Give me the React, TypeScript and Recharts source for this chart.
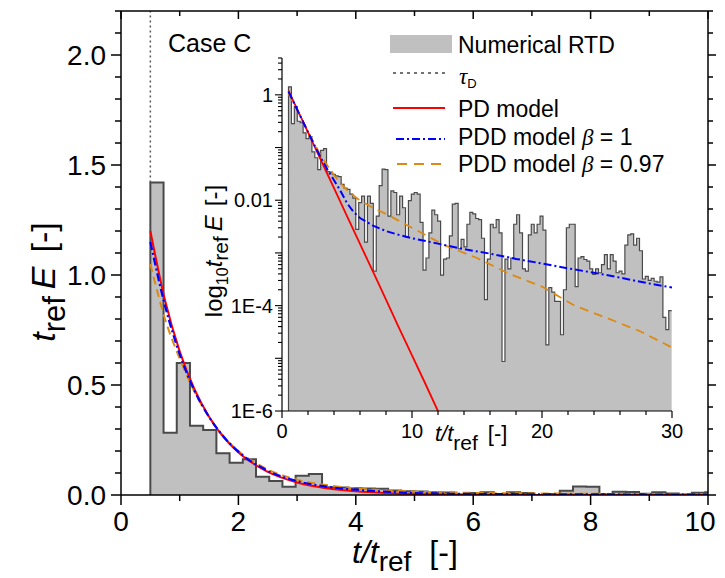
import React from 'react';
import { ComposedChart, Area, Line, XAxis, YAxis, ReferenceLine } from 'recharts';

const FONT = '"Liberation Sans", Arial, Helvetica, sans-serif';
const GREEK = '"Liberation Serif", "DejaVu Serif", serif';

// Numerical RTD histogram: bins start at t/tref = 0.5, width 0.225
const BIN_START = 0.5;
const BIN_WIDTH = 0.225;
const rtdValues = [
  1.42, 0.283, 0.6, 0.315, 0.295, 0.19, 0.147, 0.162, 0.083, 0.064,
  0.038, 0.088, 0.095, 0.035, 0.034, 0.031, 0.029, 0.028, 0.02, 0.017,
  0.016, 0.013, 0.011, 0.0028, 0.009, 0.012, 0.0016, 0.012, 0.0087, 0.00045,
  0.005, 0.019, 0.039, 0.038, 0.005, 0.015, 0.014, 0.0053, 0.012, 0.0072,
  0.002, 0.0098, 0.013, 0.014, 0.013, 0.0038, 0.00047, 0.0008, 0.0024, 0.0065,
  0.0053, 0.004, 0.00038, 0.00076, 0.0008, 0.0021, 0.0084, 0.0087, 0.0012, 0.0018,
  0.0013, 0.0035, 0.0059, 0.0055, 0.0045, 0.0043, 0.0019, 0.00013, 0.00076, 0.0035,
  0.003, 0.0043, 0.0024, 0.0000087, 0.00076, 0.0005, 0.0008, 0.0035, 0.0053, 0.0024,
  0.0005, 0.00045, 0.0022, 0.0035, 0.0024, 0.0035, 0.005, 0.0027, 0.000018, 0.00022,
  0.00018, 0.00012, 0.00012, 0.000028, 0.0002, 0.003, 0.0035, 0.0035, 0.00023, 0.0008,
  0.00085, 0.00075, 0.0007, 0.0005, 0.00039, 0.0005, 0.00042, 0.0006, 0.00093, 0.0005,
  0.00093, 0.0007, 0.00042, 0.00045, 0.0004, 0.0014, 0.0022, 0.0023, 0.0014, 0.0019,
  0.0011, 0.00032, 0.00036, 0.0003, 0.00033, 0.00029, 0.00028, 0.00035, 0.00006, 0.000035,
  0.00008,
];

const TAU_D = 0.5;

// PD model
const pdT = [0.5, 0.75, 1, 1.25, 1.5, 1.75, 2, 2.5, 3, 3.5, 4, 4.5, 5, 6, 7, 8, 9, 10, 11, 12, 12.5];
const pdE = [1.2, 0.885, 0.653, 0.482, 0.356, 0.262, 0.193, 0.105, 0.0572, 0.0311, 0.0169, 0.0092, 0.005, 0.00148, 0.00044, 0.00013, 3.8e-5, 1.14e-5, 3.4e-6, 9.9e-7, 5.4e-7];

// PDD model beta = 1
const pdd1T = [0.5, 0.75, 1, 1.25, 1.5, 1.75, 2, 2.5, 3, 3.5, 4, 4.5, 5, 5.5, 6, 7, 8, 9, 10, 12, 14, 16, 18, 20, 22, 24, 26, 28, 30];
const pdd1E = [1.15, 0.86, 0.64, 0.475, 0.355, 0.265, 0.197, 0.11, 0.063, 0.038, 0.024, 0.015, 0.0088, 0.006, 0.0046, 0.0033, 0.0026, 0.0022, 0.0019, 0.0015, 0.00118, 0.00097, 0.00077, 0.00063, 0.00051, 0.00042, 0.00034, 0.00027, 0.00022];

// PDD model beta = 0.97
const pdd097T = [0.5, 0.75, 1, 1.25, 1.5, 1.75, 2, 2.5, 3, 3.5, 4, 4.5, 5, 6, 7, 8, 10, 12.5, 15, 17.5, 20, 22.5, 25, 27.5, 30];
const pdd097E = [1.05, 0.8, 0.62, 0.47, 0.355, 0.265, 0.2, 0.116, 0.07, 0.045, 0.03, 0.021, 0.0155, 0.0098, 0.0072, 0.0055, 0.003, 0.0014, 0.0008, 0.0004, 0.00023, 0.0001, 5.8e-5, 3.3e-5, 1.6e-5];

// Axis ticks
const mainXTicks = [0, 1, 2, 3, 4, 5, 6, 7, 8, 9, 10];
const mainXLabels = [0, 2, 4, 6, 8, 10];
const mainYTicks = [0, 0.1, 0.2, 0.3, 0.4, 0.5, 0.6, 0.7, 0.8, 0.9, 1, 1.1, 1.2, 1.3, 1.4, 1.5, 1.6, 1.7, 1.8, 1.9, 2, 2.1, 2.2];
const mainYLabelValues = [0, 0.5, 1, 1.5, 2];
const mainYLabelTexts = ['0.0', '0.5', '1.0', '1.5', '2.0'];
const insetXTicks = [0, 2, 4, 6, 8, 10, 12, 14, 16, 18, 20, 22, 24, 26, 28, 30];
const insetXLabels = [0, 10, 20, 30];
const insetDecades = [-6, -5, -4, -3, -2, -1, 0];
const insetYLabelValues = [1, 0.01, 1e-4, 1e-6];
const insetYLabelTexts = ['1', '0.01', '1E-4', '1E-6'];

const Y_MAX = 2.2;
const INSET_Y_MIN = 1e-6;
const INSET_Y_MAX = 5;

const CHART_W = 709;
const CHART_H = 570;

const insetYTicks: number[] = [];
insetDecades.forEach((d) => {
  for (let m = 1; m <= 9; m++) {
    const v = m * Math.pow(10, d);
    if (v <= INSET_Y_MAX * 1.0001) insetYTicks.push(v);
  }
});

const binEdges = rtdValues.map((_, i) => BIN_START + i * BIN_WIDTH);
const histEnd = BIN_START + rtdValues.length * BIN_WIDTH;
const lastVal = rtdValues[rtdValues.length - 1];
const mainHist = [
  { t: BIN_START, v: 0 },
  ...rtdValues.map((v, i) => ({ t: binEdges[i], v })),
  { t: histEnd, v: lastVal },
];
const insetHist = [
  { t: BIN_START, v: INSET_Y_MIN },
  ...rtdValues.map((v, i) => ({ t: binEdges[i], v })),
  { t: histEnd, v: lastVal },
];
const pdData = pdT.map((t, i) => ({ t, v: pdE[i] }));
const pdd1Data = pdd1T.map((t, i) => ({ t, v: pdd1E[i] }));
const pdd097Data = pdd097T.map((t, i) => ({ t, v: pdd097E[i] }));

const RED = '#ff0000';
const BLUE = '#0000ff';
const ORANGE = '#dc8a12';
const HIST_FILL = '#c0c0c0';
const HIST_STROKE = '#4a4a4a';

const near = (a: number, b: number) => Math.abs(a - b) < 1e-9;
const isMainYMajor = (v: number) => mainYLabelValues.some((m) => near(m, v));

const MainBottomTick = (p: any) => {
  const v = p.payload.value;
  const major = mainXLabels.some((m) => near(m, v));
  const label = String(v);
  // keep the last label inside the drawing area
  const halfW = label.length * 8;
  const lx = Math.min(p.x, CHART_W - 1 - halfW);
  return (
    <g>
      <line x1={p.x} x2={p.x} y1={p.y} y2={p.y + (major ? 10 : 6)} stroke="#000" strokeWidth={1.5} />
      {major && (
        <text x={lx} y={p.y + 36} textAnchor="middle" fontFamily={FONT} fontSize={28} fill="#000">
          {label}
        </text>
      )}
    </g>
  );
};

const MainTopTick = (p: any) => {
  const v = p.payload.value;
  const major = mainXLabels.some((m) => near(m, v));
  return <line x1={p.x} x2={p.x} y1={p.y} y2={p.y + (major ? 8 : 5)} stroke="#000" strokeWidth={1.5} />;
};

const MainLeftTick = (p: any) => {
  const v = p.payload.value;
  const idx = mainYLabelValues.findIndex((m) => near(m, v));
  const major = idx >= 0;
  return (
    <g>
      <line x1={p.x} x2={p.x - (major ? 10 : 6)} y1={p.y} y2={p.y} stroke="#000" strokeWidth={1.5} />
      {major && (
        <text x={p.x - 15} y={p.y + 10} textAnchor="end" fontFamily={FONT} fontSize={28} fill="#000">
          {mainYLabelTexts[idx]}
        </text>
      )}
    </g>
  );
};

const MainRightTick = (p: any) => {
  const v = p.payload.value;
  const major = isMainYMajor(v);
  return <line x1={p.x} x2={p.x + (major ? 8 : 5)} y1={p.y} y2={p.y} stroke="#000" strokeWidth={1.5} />;
};

const InsetBottomTick = (p: any) => {
  const v = p.payload.value;
  const major = insetXLabels.some((m) => near(m, v));
  return (
    <g>
      <line x1={p.x} x2={p.x} y1={p.y} y2={p.y + (major ? 7 : 4)} stroke="#000" strokeWidth={1.2} />
      {major && (
        <text x={p.x} y={p.y + 27} textAnchor="middle" fontFamily={FONT} fontSize={20} fill="#000">
          {v}
        </text>
      )}
    </g>
  );
};

const InsetLeftTick = (p: any) => {
  const v = p.payload.value;
  const lg = Math.log10(v);
  const isDecade = Math.abs(lg - Math.round(lg)) < 1e-6;
  const idx = insetYLabelValues.findIndex((m) => Math.abs(Math.log10(m) - lg) < 1e-6);
  return (
    <g>
      <line x1={p.x} x2={p.x - (isDecade ? 7 : 4)} y1={p.y} y2={p.y} stroke="#000" strokeWidth={1.1} />
      {idx >= 0 && (
        <text x={p.x - 9} y={p.y + 7} textAnchor="end" fontFamily={FONT} fontSize={20} fill="#000">
          {insetYLabelTexts[idx]}
        </text>
      )}
    </g>
  );
};

const MainChart = () => (
  <ComposedChart width={CHART_W} height={CHART_H} margin={{ top: 2, right: 0, bottom: 23, left: 53 }}>
    <XAxis
      xAxisId="b"
      dataKey="t"
      type="number"
      domain={[0, 10]}
      ticks={mainXTicks}
      interval={0}
      allowDataOverflow
      height={60}
      tickSize={0}
      tickMargin={0}
      tickLine={false}
      axisLine={{ stroke: '#000', strokeWidth: 1.5 }}
      tick={(p: any) => <MainBottomTick {...p} />}
    />
    <XAxis
      xAxisId="top"
      orientation="top"
      dataKey="t"
      type="number"
      domain={[0, 10]}
      ticks={mainXTicks}
      interval={0}
      allowDataOverflow
      height={1}
      tickSize={0}
      tickMargin={0}
      tickLine={false}
      axisLine={{ stroke: '#000', strokeWidth: 1.5 }}
      tick={(p: any) => <MainTopTick {...p} />}
    />
    <YAxis
      yAxisId="l"
      type="number"
      domain={[0, Y_MAX]}
      ticks={mainYTicks}
      interval={0}
      allowDataOverflow
      width={60}
      tickSize={0}
      tickMargin={0}
      tickLine={false}
      axisLine={{ stroke: '#000', strokeWidth: 1.5 }}
      tick={(p: any) => <MainLeftTick {...p} />}
    />
    <YAxis
      yAxisId="r"
      orientation="right"
      type="number"
      domain={[0, Y_MAX]}
      ticks={mainYTicks}
      interval={0}
      allowDataOverflow
      width={9}
      tickSize={0}
      tickMargin={0}
      tickLine={false}
      axisLine={{ stroke: '#000', strokeWidth: 1.5 }}
      tick={(p: any) => <MainRightTick {...p} />}
    />
    <ReferenceLine
      xAxisId="b"
      yAxisId="l"
      segment={[{ x: TAU_D, y: rtdValues[0] }, { x: TAU_D, y: Y_MAX }]}
      stroke="#555"
      strokeWidth={1.5}
      strokeDasharray="2 3"
    />
    <Area
      xAxisId="b"
      yAxisId="l"
      data={mainHist}
      dataKey="v"
      type="stepAfter"
      fill={HIST_FILL}
      fillOpacity={1}
      stroke={HIST_STROKE}
      strokeWidth={2}
      dot={false}
      activeDot={false}
      isAnimationActive={false}
    />
    {/* invisible series that binds the mirrored top / right frame axes */}
    <Line xAxisId="top" yAxisId="r" data={pdData} dataKey="v" stroke="none" strokeWidth={0} dot={false} activeDot={false} isAnimationActive={false} />
    <Line xAxisId="b" yAxisId="l" data={pdd097Data} dataKey="v" type="monotone" stroke={ORANGE} strokeWidth={2} strokeDasharray="8 5" dot={false} activeDot={false} isAnimationActive={false} />
    <Line xAxisId="b" yAxisId="l" data={pdData} dataKey="v" type="monotone" stroke={RED} strokeWidth={2} dot={false} activeDot={false} isAnimationActive={false} />
    <Line xAxisId="b" yAxisId="l" data={pdd1Data} dataKey="v" type="monotone" stroke={BLUE} strokeWidth={2.2} strokeDasharray="8 3 2 3" dot={false} activeDot={false} isAnimationActive={false} />
  </ComposedChart>
);

const InsetChart = () => (
  <ComposedChart width={490} height={400} margin={{ top: 8, right: 13, bottom: 0, left: 17 }}>
    <XAxis
      dataKey="t"
      type="number"
      domain={[0, 30]}
      ticks={insetXTicks}
      interval={0}
      allowDataOverflow
      height={39}
      tickSize={0}
      tickMargin={0}
      tickLine={false}
      axisLine={{ stroke: '#000', strokeWidth: 1.2 }}
      tick={(p: any) => <InsetBottomTick {...p} />}
    />
    <YAxis
      type="number"
      scale="log"
      domain={[INSET_Y_MIN, INSET_Y_MAX]}
      ticks={insetYTicks}
      interval={0}
      allowDataOverflow
      width={70}
      tickSize={0}
      tickMargin={0}
      tickLine={false}
      axisLine={{ stroke: '#000', strokeWidth: 1.2 }}
      tick={(p: any) => <InsetLeftTick {...p} />}
    />
    <Area
      data={insetHist}
      dataKey="v"
      type="stepAfter"
      baseValue={INSET_Y_MIN}
      fill={HIST_FILL}
      fillOpacity={1}
      stroke={HIST_STROKE}
      strokeWidth={1.2}
      dot={false}
      activeDot={false}
      isAnimationActive={false}
    />
    <Line data={pdd097Data} dataKey="v" type="linear" stroke={ORANGE} strokeWidth={1.8} strokeDasharray="9 6" dot={false} activeDot={false} isAnimationActive={false} />
    <Line data={pdData} dataKey="v" type="linear" stroke={RED} strokeWidth={1.8} dot={false} activeDot={false} isAnimationActive={false} />
    <Line data={pdd1Data} dataKey="v" type="linear" stroke={BLUE} strokeWidth={2} strokeDasharray="8 3 2 3" dot={false} activeDot={false} isAnimationActive={false} />
  </ComposedChart>
);

const Overlay = () => (
  <svg width={CHART_W} height={CHART_H} style={{ position: 'absolute', left: 0, top: 0, pointerEvents: 'none' }}>
    <text x={160} y={44} fontFamily={FONT} fontSize={25} fill="#000">Case C</text>

    {/* legend */}
    <rect x={382} y={27} width={62} height={18} fill={HIST_FILL} />
    <text x={450} y={45} fontFamily={FONT} fontSize={23} fill="#000">Numerical RTD</text>

    <line x1={385} x2={437} y1={65} y2={65} stroke="#444" strokeWidth={1.5} strokeDasharray="3 4" />
    <text x={451} y={76} fontFamily={GREEK} fontSize={23} fill="#000">
      <tspan fontStyle="italic">τ</tspan>
      <tspan fontFamily={FONT} fontSize={13} dy={4}>D</tspan>
    </text>

    <line x1={385} x2={437} y1={100} y2={100} stroke={RED} strokeWidth={2} />
    <text x={450} y={109} fontFamily={FONT} fontSize={23} fill="#000">PD model</text>

    <line x1={388} x2={437} y1={131} y2={131} stroke={BLUE} strokeWidth={2.2} strokeDasharray="8 3 2 3" />
    <text x={450} y={137} fontFamily={FONT} fontSize={23} fill="#000">
      PDD model <tspan fontFamily={GREEK} fontStyle="italic">β</tspan> = 1
    </text>

    <line x1={389} x2={437} y1={156} y2={156} stroke={ORANGE} strokeWidth={2} strokeDasharray="10 7" />
    <text x={450} y={164} fontFamily={FONT} fontSize={23} fill="#000">
      PDD model <tspan fontFamily={GREEK} fontStyle="italic">β</tspan> = 0.97
    </text>

    {/* main axis titles */}
    <text x={344} y={555} fontFamily={FONT} fontSize={32} fill="#000">
      <tspan fontStyle="italic">t/t</tspan>
      <tspan fontSize={28} dy={8}>ref</tspan>
      <tspan dy={-8} dx={18}>[-]</tspan>
    </text>
    <text transform="rotate(-90 47 274)" x={47} y={274} textAnchor="middle" fontFamily={FONT} fontSize={34} fill="#000">
      <tspan fontStyle="italic">t</tspan>
      <tspan fontSize={31} dy={10}>ref</tspan>
      <tspan fontStyle="italic" dy={-10} dx={7}>E</tspan>
      <tspan dx={14}>[-]</tspan>
    </text>

    {/* inset axis titles */}
    <text x={427} y={433} fontFamily={FONT} fontSize={22} fill="#000">
      <tspan fontStyle="italic">t/t</tspan>
      <tspan fontSize={21} dy={9}>ref</tspan>
      <tspan dy={-9} dx={10}>[-]</tspan>
    </text>
    <text transform="rotate(-90 214 243)" x={214} y={243} textAnchor="middle" fontFamily={FONT} fontSize={24} fill="#000">
      <tspan>log</tspan>
      <tspan fontSize={16} dy={6}>10</tspan>
      <tspan fontStyle="italic" dy={-6}>t</tspan>
      <tspan fontSize={21} dy={6}>ref</tspan>
      <tspan fontStyle="italic" dy={-6} dx={5}>E</tspan>
      <tspan dx={9}>[-]</tspan>
    </text>
  </svg>
);

export default function App() {
  return (
    <div style={{ position: 'relative', width: CHART_W, height: CHART_H }}>
      <MainChart />
      <div style={{ position: 'absolute', left: 187, top: 42 }}>
        <InsetChart />
      </div>
      <Overlay />
    </div>
  );
}
